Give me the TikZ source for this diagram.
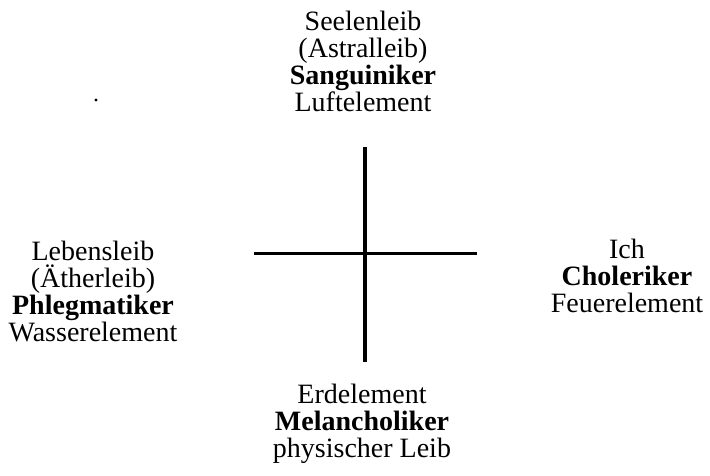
\documentclass[tikz,border=0pt]{standalone}
\usepackage{fontspec}
\setmainfont{Liberation Serif}
\begin{document}
\begin{tikzpicture}[x=1pt,y=-1pt,
  lbl/.style={align=center,inner sep=0pt,anchor=north,font=\fontsize{28}{27}\selectfont},
  axis/.style={line width=3.6pt}]
\useasboundingbox (0,0) rectangle (710,475);
\node[lbl] (top) at (363,11) {Seelenleib\\(Astralleib)\\\textbf{Sanguiniker}\\Luftelement};
\node[lbl] (left) at (93,241) {Lebensleib\\(Ätherleib)\\\textbf{Phlegmatiker}\\Wasserelement};
\node[lbl] (right) at (627,239) {Ich\\\textbf{Choleriker}\\Feuerelement};
\node[lbl] (bottom) at (362,384) {Erdelement\\\textbf{Melancholiker}\\physischer Leib};
\coordinate (vt) at (365,147);
\coordinate (vb) at (365,362);
\coordinate (hl) at (254,253.5);
\coordinate (hr) at (477,253.5);
\draw[axis] (vt) -- (vb);
\draw[axis] (hl) -- (hr);
\fill (96,100) circle (1.6);
\end{tikzpicture}
\end{document}
